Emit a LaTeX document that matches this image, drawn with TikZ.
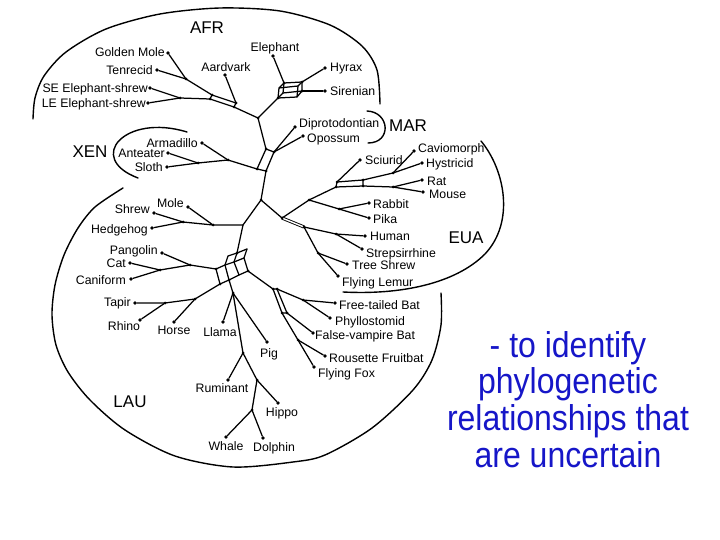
\documentclass[tikz,border=0pt]{standalone}
\usepackage{graphicx}
\usepackage{fontspec}
\setmainfont{Liberation Sans}
\definecolor{txtblue}{RGB}{22,22,200}
\begin{document}
\begin{tikzpicture}[x=1pt,y=-1pt,
  br/.style={line width=1.25pt, line cap=round, line join=round},
  arcline/.style={line width=1.4pt, line cap=round},
  leaf/.style={circle, fill=black, inner sep=0pt, minimum size=3.8pt},
  lbl/.style={font=\fontsize{12.3}{14}\selectfont, inner sep=0pt, text height=8.8pt, text depth=0pt},
  grp/.style={font=\fontsize{17}{20}\selectfont, inner sep=0pt},
  blu/.style={font=\fontsize{32}{37}\selectfont, text=txtblue, inner sep=0pt, anchor=base}
]
\useasboundingbox (0,0) rectangle (720,540);

% ---------- leaves ----------
\node[leaf] (gm) at (168,53) {};
\node[leaf] (ten) at (157,70) {};
\node[leaf] (se) at (150,88) {};
\node[leaf] (le) at (148,103) {};
\node[leaf] (aard) at (225,75) {};
\node[leaf] (eleph) at (273,56) {};
\node[leaf] (hyr) at (325,68) {};
\node[leaf] (sir) at (325,91) {};
\node[leaf] (dip) at (295,127) {};
\node[leaf] (opo) at (303,136) {};
\node[leaf] (arm) at (202,143) {};
\node[leaf] (ant) at (168,153) {};
\node[leaf] (slo) at (167,167) {};
\node[leaf] (mole) at (188,207) {};
\node[leaf] (shr) at (154,213) {};
\node[leaf] (hed) at (152,228) {};
\node[leaf] (pan) at (162,253) {};
\node[leaf] (cat) at (130,263) {};
\node[leaf] (can) at (131,279) {};
\node[leaf] (tap) at (135,303) {};
\node[leaf] (rhi) at (140,320) {};
\node[leaf] (hor) at (174,322) {};
\node[leaf] (lla) at (223,322) {};
\node[leaf] (pig) at (267,342) {};
\node[leaf] (rum) at (228,380) {};
\node[leaf] (hip) at (278,403) {};
\node[leaf] (wha) at (226,437) {};
\node[leaf] (dol) at (263,438) {};
\node[leaf] (sci) at (360,160) {};
\node[leaf] (cav) at (414,151) {};
\node[leaf] (hys) at (422,163) {};
\node[leaf] (rat) at (422,180) {};
\node[leaf] (mou) at (423,192) {};
\node[leaf] (rab) at (369,203) {};
\node[leaf] (pik) at (369,218) {};
\node[leaf] (hum) at (365,236) {};
\node[leaf] (str) at (362,249) {};
\node[leaf] (tsh) at (347,264) {};
\node[leaf] (fle) at (338,276) {};
\node[leaf] (ftb) at (335,303) {};
\node[leaf] (phy) at (330,318) {};
\node[leaf] (fvb) at (313,333) {};
\node[leaf] (rou) at (325,356) {};
\node[leaf] (ffx) at (314,367) {};

% ---------- internal points ----------
\coordinate (a1) at (186,79);
\coordinate (b1) at (212,95);
\coordinate (b2) at (236,103);
\coordinate (b3) at (234,107);
\coordinate (b4) at (210,99);
\coordinate (es) at (180,98);
\coordinate (r1) at (258,118);
\coordinate (e1c) at (279,88);
\coordinate (e2c) at (298,86);
\coordinate (e3c) at (297,97);
\coordinate (e4c) at (278,98);
\coordinate (e5c) at (284,83);
\coordinate (e6c) at (302,82);
\coordinate (e7c) at (302,91);
\coordinate (e8c) at (283,93);
\coordinate (x1) at (266,149);
\coordinate (x2) at (274,152);
\coordinate (x3) at (266,171);
\coordinate (x4) at (257,169);
\coordinate (xat) at (198,163);
\coordinate (xn) at (228,160);
\coordinate (n1) at (261,200);
\coordinate (l1) at (243,225);
\coordinate (ins) at (213,225);
\coordinate (sh) at (183,222);
\coordinate (u0) at (216,269);
\coordinate (u1) at (225,265);
\coordinate (u2) at (234,262);
\coordinate (u3) at (244,258);
\coordinate (d0) at (220,284);
\coordinate (d1) at (229,280);
\coordinate (d2) at (239,275);
\coordinate (d3) at (248,271);
\coordinate (p1) at (228,256);
\coordinate (p2) at (237,253);
\coordinate (p3) at (247,249);
\coordinate (cc) at (160,270);
\coordinate (pc) at (190,265);
\coordinate (tr) at (165,303);
\coordinate (ph) at (195,299);
\coordinate (cs) at (233,293);
\coordinate (c1) at (243,353);
\coordinate (c2) at (257,380);
\coordinate (c3) at (252,410);
\coordinate (bb1) at (273,289);
\coordinate (bb2) at (277,289);
\coordinate (bb3) at (287,313);
\coordinate (bb4) at (282,313);
\coordinate (ft) at (303,300);
\coordinate (rf) at (298,340);
\coordinate (e1) at (282,218);
\coordinate (gl) at (309,200);
\coordinate (rp) at (339,209);
\coordinate (rb1) at (337,182);
\coordinate (rb2) at (336,187);
\coordinate (rb3) at (363,180);
\coordinate (rb4) at (363,186);
\coordinate (hc) at (393,173);
\coordinate (mu) at (393,187);
\coordinate (pr) at (304,227);
\coordinate (hs) at (336,234);
\coordinate (ts) at (318,253);

% ---------- AFR ----------
\draw[br] (gm) -- (a1) -- (b1);
\draw[br] (ten) -- (a1);
\draw[br] (se) -- (es) -- (b4);
\draw[br] (le) -- (es);
\draw[br] (b1) -- (b2) -- (b3) -- (b4) -- cycle;
\draw[br] (aard) -- (b2);
\draw[br] (b3) -- (r1);
\draw[br] (e1c) -- (e2c) -- (e3c) -- (e4c) -- cycle;
\draw[br] (e5c) -- (e6c) -- (e7c);
\draw[br] (e1c) -- (e5c);
\draw[br] (e2c) -- (e6c);
\draw[br] (e3c) -- (e7c);
\draw[br] (e4c) -- (e8c) -- (e7c);
\draw[br] (e8c) -- (e5c);
\draw[br] (r1) -- (e4c);
\draw[br] (eleph) -- (e5c);
\draw[br] (hyr) -- (e6c);
\draw[br] (sir) -- (e7c);

% ---------- MAR / XEN ----------
\draw[br] (r1) -- (x1);
\draw[br] (x1) -- (x2) -- (x3) -- (x4) -- cycle;
\draw[br] (dip) -- (x2);
\draw[br] (opo) -- (x2);
\draw[br] (ant) -- (xat) -- (xn) -- (x4);
\draw[br] (slo) -- (xat);
\draw[br] (arm) -- (xn);
\draw[br] (x3) -- (n1);
\draw[br] (n1) -- (l1);
\draw[br] (n1) -- (e1);

% ---------- LAU ----------
\draw[br] (l1) -- (ins) -- (sh) -- (shr);
\draw[br] (sh) -- (hed);
\draw[br] (ins) -- (mole);
\draw[br] (l1) -- (p2);
\draw[br] (u0) -- (u1) -- (u2) -- (u3);
\draw[br] (d0) -- (d1) -- (d2) -- (d3);
\draw[br] (u0) -- (d0);
\draw[br] (u1) -- (d1);
\draw[br] (u2) -- (d2);
\draw[br] (u3) -- (d3);
\draw[br] (p1) -- (p2) -- (p3);
\draw[br] (u1) -- (p1);
\draw[br] (u2) -- (p2);
\draw[br] (u3) -- (p3);
\draw[br] (pan) -- (pc) -- (u0);
\draw[br] (cat) -- (cc) -- (pc);
\draw[br] (can) -- (cc);
\draw[br] (tap) -- (tr) -- (ph) -- (d0);
\draw[br] (rhi) -- (tr);
\draw[br] (hor) -- (ph);
\draw[br] (d1) -- (cs) -- (c1);
\draw[br] (lla) -- (cs);
\draw[br] (pig) -- (cs);
\draw[br] (c1) -- (rum);
\draw[br] (c1) -- (c2) -- (hip);
\draw[br] (c2) -- (c3) -- (wha);
\draw[br] (c3) -- (dol);
\draw[br] (d3) -- (bb1);
\draw[br] (bb1) -- (bb2) -- (bb3) -- (bb4) -- cycle;
\draw[br] (bb2) -- (ft) -- (ftb);
\draw[br] (ft) -- (phy);
\draw[br] (bb3) -- (fvb);
\draw[br] (bb4) -- (rf) -- (ffx);
\draw[br] (rf) -- (rou);

% ---------- EUA ----------
\draw[br] (e1) -- (gl) -- (rp) -- (rab);
\draw[br] (rp) -- (pik);
\draw[br] (gl) -- (rb2);
\draw[br] (rb1) -- (rb3) -- (rb4) -- (rb2) -- cycle;
\draw[br] (rb1) -- (sci);
\draw[br] (rb3) -- (hc) -- (hys);
\draw[br] (hc) -- (cav);
\draw[br] (rb4) -- (mu) -- (rat);
\draw[br] (mu) -- (mou);
\draw[line width=0.9pt, double, double distance=1.4pt] (e1) -- (pr);
\draw[br] (pr) -- (hs) -- (hum);
\draw[br] (hs) -- (str);
\draw[br] (pr) -- (ts) -- (fle);
\draw[br] (ts) -- (tsh);

% internal dots
\foreach \p in {a1,es,b1,b2,b3,b4,r1,e4c,e5c,e6c,e7c,x1,x2,x3,x4,xat,xn,n1,ins,sh,cc,pc,tr,ph,u0,d0,d1,d3,p2,cs,c1,c2,c3,bb1,bb2,bb3,bb4,ft,rf,e1,gl,rp,rb1,rb2,rb3,rb4,hc,mu,pr,hs,ts}
  \fill (\p) circle (1.5pt);

% ---------- group outlines ----------
\draw[arcline] plot[smooth] coordinates {(33,119) (35,98) (44,76) (66,52) (106,29) (160,14) (220,8) (280,11) (330,25) (362,46) (377,70) (380,104)};
\draw[arcline] (367,111) .. controls (390,112) and (392,143) .. (368,143);
\draw[arcline] (187,132) .. controls (125,113) and (85,158) .. (138,178);
\draw[arcline] (481,141) .. controls (505,170) and (515,222) .. (485,254) .. controls (455,284) and (400,295) .. (343,292);
\draw[arcline] plot[smooth] coordinates {(123,188) (95,207) (78,228) (64,255) (55,285) (52,315) (56,345) (68,372) (90,400) (125,430) (175,456) (233,467) (293,462) (325,455) (372,428) (413,390) (432,360) (441,325) (441,293)};

% ---------- labels ----------
\node[lbl, anchor=east] (tgm) at (165,52) {Golden Mole};
\node[lbl, anchor=east] (tten) at (153,70) {Tenrecid};
\node[lbl, anchor=east] (tse) at (148,88) {SE Elephant-shrew};
\node[lbl, anchor=east] (tle) at (146,103) {LE Elephant-shrew};
\node[lbl] (taard) at (226,67) {Aardvark};
\node[lbl] (teleph) at (275,47) {Elephant};
\node[lbl, anchor=west] (thyr) at (330,67) {Hyrax};
\node[lbl, anchor=west] (tsir) at (330,91) {Sirenian};
\node[lbl, anchor=west] (tdip) at (299,123) {Diprotodontian};
\node[lbl, anchor=west] (topo) at (307,138) {Opossum};
\node[lbl, anchor=east] (tarm) at (198,143) {Armadillo};
\node[lbl, anchor=east] (tant) at (165,153) {Anteater};
\node[lbl, anchor=east] (tslo) at (163,167) {Sloth};
\node[lbl, anchor=east] (tmole) at (184,203) {Mole};
\node[lbl, anchor=east] (tshr) at (150,209) {Shrew};
\node[lbl, anchor=east] (thed) at (148,229) {Hedgehog};
\node[lbl, anchor=east] (tpan) at (158,250) {Pangolin};
\node[lbl, anchor=east] (tcat) at (126,263) {Cat};
\node[lbl, anchor=east] (tcan) at (126,280) {Caniform};
\node[lbl, anchor=east] (ttap) at (131,302) {Tapir};
\node[lbl] (trhi) at (124,326) {Rhino};
\node[lbl] (thor) at (174,330) {Horse};
\node[lbl] (tlla) at (220,332) {Llama};
\node[lbl] (tpig) at (269,353) {Pig};
\node[lbl] (trum) at (222,388) {Ruminant};
\node[lbl] (thip) at (282,412) {Hippo};
\node[lbl] (twha) at (226,446) {Whale};
\node[lbl] (tdol) at (274,447) {Dolphin};
\node[lbl, anchor=west] (tsci) at (365,160) {Sciurid};
\node[lbl, anchor=west] (tcav) at (418,148) {Caviomorph};
\node[lbl, anchor=west] (thys) at (426,163) {Hystricid};
\node[lbl, anchor=west] (trat) at (427,181) {Rat};
\node[lbl, anchor=west] (tmou) at (429,194) {Mouse};
\node[lbl, anchor=west] (trab) at (373,204) {Rabbit};
\node[lbl, anchor=west] (tpik) at (373,219) {Pika};
\node[lbl, anchor=west] (thum) at (370,236) {Human};
\node[lbl, anchor=west] (tstr) at (366,253) {Strepsirrhine};
\node[lbl, anchor=west] (ttsh) at (352,265) {Tree Shrew};
\node[lbl, anchor=west] (tfle) at (342,282) {Flying Lemur};
\node[lbl, anchor=west] (tftb) at (339,305) {Free-tailed Bat};
\node[lbl, anchor=west] (tphy) at (335,321) {Phyllostomid};
\node[lbl, anchor=west] (tfvb) at (315,335) {False-vampire Bat};
\node[lbl, anchor=west] (trou) at (329,358) {Rousette Fruitbat};
\node[lbl, anchor=west] (tffx) at (318,373) {Flying Fox};

\node[grp] (gafr) at (207,28) {AFR};
\node[grp] (gmar) at (408,126) {MAR};
\node[grp] (gxen) at (90,152) {XEN};
\node[grp] (geua) at (466,238) {EUA};
\node[grp] (glau) at (130,402) {LAU};

% ---------- blue text ----------
\node[blu] (bt1) at (568,357) {\scalebox{1}[1.12]{- to identify}};
\node[blu] (bt2) at (568,393.5) {\scalebox{1}[1.12]{phylogenetic}};
\node[blu] (bt3) at (568,430) {\scalebox{1}[1.12]{relationships that}};
\node[blu] (bt4) at (568,467) {\scalebox{1}[1.12]{are uncertain}};
\end{tikzpicture}
\end{document}
